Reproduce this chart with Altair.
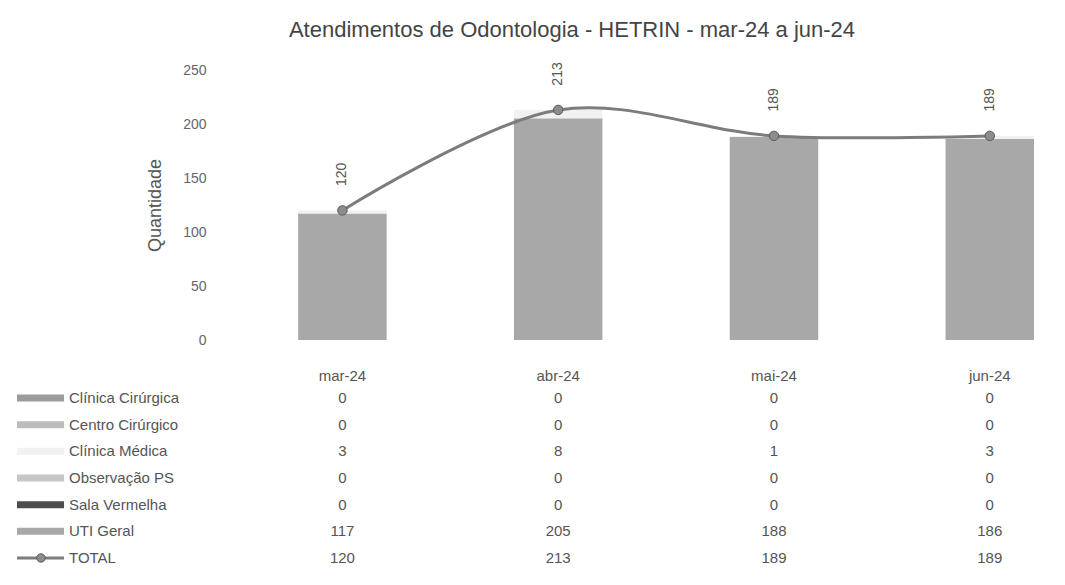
import altair as alt
import pandas as pd

# ---- data ----
months = ["mar-24", "abr-24", "mai-24", "jun-24"]
series_names = ["Clínica Cirúrgica", "Centro Cirúrgico", "Clínica Médica",
                "Observação PS", "Sala Vermelha", "UTI Geral"]
clinica_cirurgica = [0, 0, 0, 0]
centro_cirurgico = [0, 0, 0, 0]
clinica_medica = [3, 8, 1, 3]
observacao_ps = [0, 0, 0, 0]
sala_vermelha = [0, 0, 0, 0]
uti_geral = [117, 205, 188, 186]
total = [120, 213, 189, 189]
y_ticks = [0, 50, 100, 150, 200, 250]

# ---- style ----
palette = ["#9c9c9c", "#bcbcbc", "#f1f1f1", "#c6c6c6", "#4d4d4d", "#a8a8a8"]
stack_order = [6, 5, 2, 4, 3, 1]   # UTI Geral at the bottom
FONT = "Liberation Sans"
TXT = "#555555"

series_values = [clinica_cirurgica, centro_cirurgico, clinica_medica,
                 observacao_ps, sala_vermelha, uti_geral]
row_names = series_names + ["TOTAL"]

bars_rows, table_rows = [], []
for name, vals, o in zip(series_names, series_values, stack_order):
    for m, v in zip(months, vals):
        bars_rows.append({"month": m, "series": name, "value": v, "ord": o})
        table_rows.append({"month": m, "row": name, "label": str(v)})
for m, v in zip(months, total):
    table_rows.append({"month": m, "row": "TOTAL", "label": str(v)})

bars_df = pd.DataFrame(bars_rows)
table_df = pd.DataFrame(table_rows)
total_df = pd.DataFrame({"month": months, "total": total})
legend_df = pd.DataFrame({"row": row_names})
swatch_df = pd.DataFrame({"row": series_names, "series": series_names})
total_sw_df = pd.DataFrame({"row": ["TOTAL"]})

x_scale = alt.Scale(domain=months, paddingInner=0.59, paddingOuter=0.195, align=0.81)
x_enc = alt.X("month:N", sort=months, scale=x_scale,
              axis=alt.Axis(title=None, labelAngle=0, ticks=False, domain=False,
                            labelPadding=28, labelFont=FONT, labelFontSize=15,
                            labelColor=TXT))
y_scale = alt.Scale(domain=[0, 250], nice=False)
color_scale = alt.Scale(domain=series_names, range=palette)

bars = alt.Chart(bars_df).mark_bar().encode(
    x=x_enc,
    y=alt.Y("value:Q", stack="zero", scale=y_scale,
            axis=alt.Axis(values=y_ticks, grid=False, domain=False, ticks=False,
                          labelPadding=24, labelFont=FONT, labelFontSize=14,
                          labelColor="#666666", title="Quantidade",
                          titleFont=FONT, titleFontSize=18, titleFontWeight="normal",
                          titleColor=TXT, titlePadding=18)),
    color=alt.Color("series:N", scale=color_scale, legend=None),
    order=alt.Order("ord:Q"),
)

line = alt.Chart(total_df).mark_line(
    interpolate="catmull-rom", color="#7c7c7c", strokeWidth=3
).encode(x=alt.X("month:N", sort=months, scale=x_scale),
         y=alt.Y("total:Q", scale=y_scale))

pts = alt.Chart(total_df).mark_circle(
    size=90, color="#8c8c8c", stroke="#5a5a5a", strokeWidth=1, opacity=1
).encode(x=alt.X("month:N", sort=months, scale=x_scale),
         y=alt.Y("total:Q", scale=y_scale))

vlabels = alt.Chart(total_df).mark_text(
    angle=270, yOffset=-36, font=FONT, fontSize=14, color=TXT,
    align="center", baseline="middle"
).encode(x=alt.X("month:N", sort=months, scale=x_scale),
         y=alt.Y("total:Q", scale=y_scale),
         text="total:Q")

top = alt.layer(bars, line, pts, vlabels)

# point scale keeps half a step of padding at each end
row_scale = alt.Scale(domain=row_names, range=[314.7, 501.3], padding=0)
row_enc = alt.Y("row:N", sort=row_names, scale=row_scale, axis=None)

table_text = alt.Chart(table_df).mark_text(
    font=FONT, fontSize=15, color=TXT, align="center", baseline="middle"
).encode(x=alt.X("month:N", sort=months, scale=x_scale), y=row_enc, text="label:N")

legend_text = alt.Chart(legend_df).mark_text(
    font=FONT, fontSize=15, color=TXT, align="left", baseline="middle"
).encode(x=alt.value(-161), y=row_enc, text="row:N")

swatches = alt.Chart(swatch_df).mark_rule(strokeWidth=7).encode(
    x=alt.value(-213), x2=alt.value(-166), y=row_enc,
    color=alt.Color("series:N", scale=color_scale, legend=None))

total_sw = alt.Chart(total_sw_df).mark_rule(strokeWidth=3, color="#7c7c7c").encode(
    x=alt.value(-213), x2=alt.value(-166), y=row_enc)
total_sw_pt = alt.Chart(total_sw_df).mark_circle(
    size=70, color="#8c8c8c", stroke="#5a5a5a", strokeWidth=1, opacity=1
).encode(x=alt.value(-189), y=row_enc)

table = alt.layer(table_text, legend_text, swatches, total_sw, total_sw_pt)

chart = alt.layer(top, table).resolve_scale(y="independent").properties(
    width=820, height=270,
    padding={"top": 11, "left": 5, "right": 5, "bottom": 5},
    title=alt.Title("Atendimentos de Odontologia - HETRIN - mar-24 a jun-24",
                    font=FONT, fontSize=22, fontWeight="normal", color="#444444",
                    offset=20, dx=-68),
).configure_view(stroke=None).configure_scale(pointPadding=0)

chart.save("out.html", embed_options={"renderer": "svg", "actions": False})
